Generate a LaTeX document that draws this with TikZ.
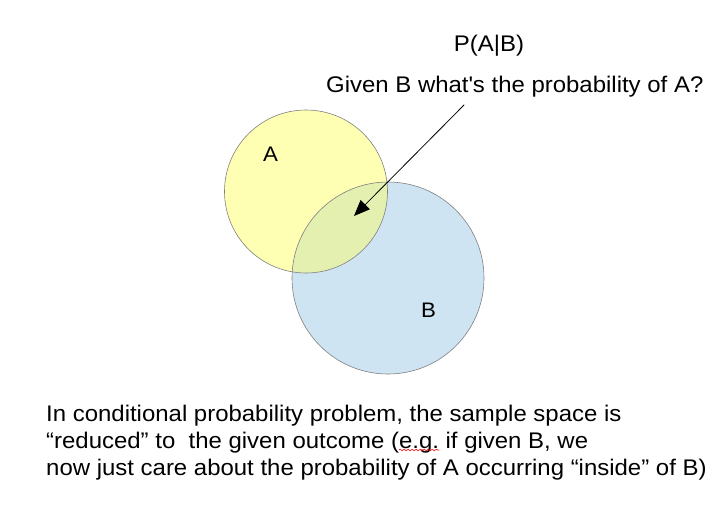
\documentclass[tikz,border=0pt]{standalone}
\usepackage{fontspec}
\setmainfont[FakeStretch=1.06]{Liberation Sans}
\usetikzlibrary{arrows.meta,decorations.pathmorphing}
\definecolor{setA}{HTML}{FFFFB3}
\definecolor{setB}{HTML}{CFE4F3}
\definecolor{setAB}{HTML}{E4F0B0}
\definecolor{rim}{HTML}{808080}

\begin{document}
\begin{tikzpicture}[line cap=round,line join=round,>={Triangle[length=16pt,width=13pt]},x=1pt,y=-1pt,
  every node/.style={inner sep=0pt,font=\fontsize{22.6}{27}\selectfont}]
\useasboundingbox (0,0) rectangle (722,523);
% sets
\fill[color=setA] (306,191.5) circle (81.5);
\fill[color=setB] (388,278) circle (96);
\begin{scope}
\clip (306,191.5) circle (81.5);
\fill[color=setAB] (388,278) circle (96);
\end{scope}
\draw[color=rim,line width=0.6pt] (306,191.5) circle (81.5);
\draw[color=rim,line width=0.6pt] (388,278) circle (96);
\node[anchor=base,font=\fontsize{21}{24}\selectfont] (labA) at (270.5,161.7) {A};
\node[anchor=base,font=\fontsize{21}{24}\selectfont] (labB) at (428.5,317) {B};
% titles
\node[anchor=base] (cond) at (489,51.7) {P(A|B)};
\node[anchor=base west] (given) at (326,92.7) {Given B what\textquotesingle s the probability of A?};
\coordinate (from) at (464,105);
\coordinate (into) at (354,216);
\draw[->,color=black,line width=0.8pt] (from) -- (into);
% explanation
\node[anchor=base west] (line1) at (46,421) {In conditional probability problem, the sample space is};
\node[anchor=base west] (line2) at (46,448) {“reduced” to\ \ the given outcome (e.g.\ if given B, we};
\node[anchor=base west] (line3) at (46,475) {now just care about the probability of A occurring “inside” of B)};
\draw[color=red,line width=0.6pt,decorate,decoration={snake,amplitude=1pt,segment length=4pt}] (399,450) -- (439,450);
\end{tikzpicture}
\end{document}
